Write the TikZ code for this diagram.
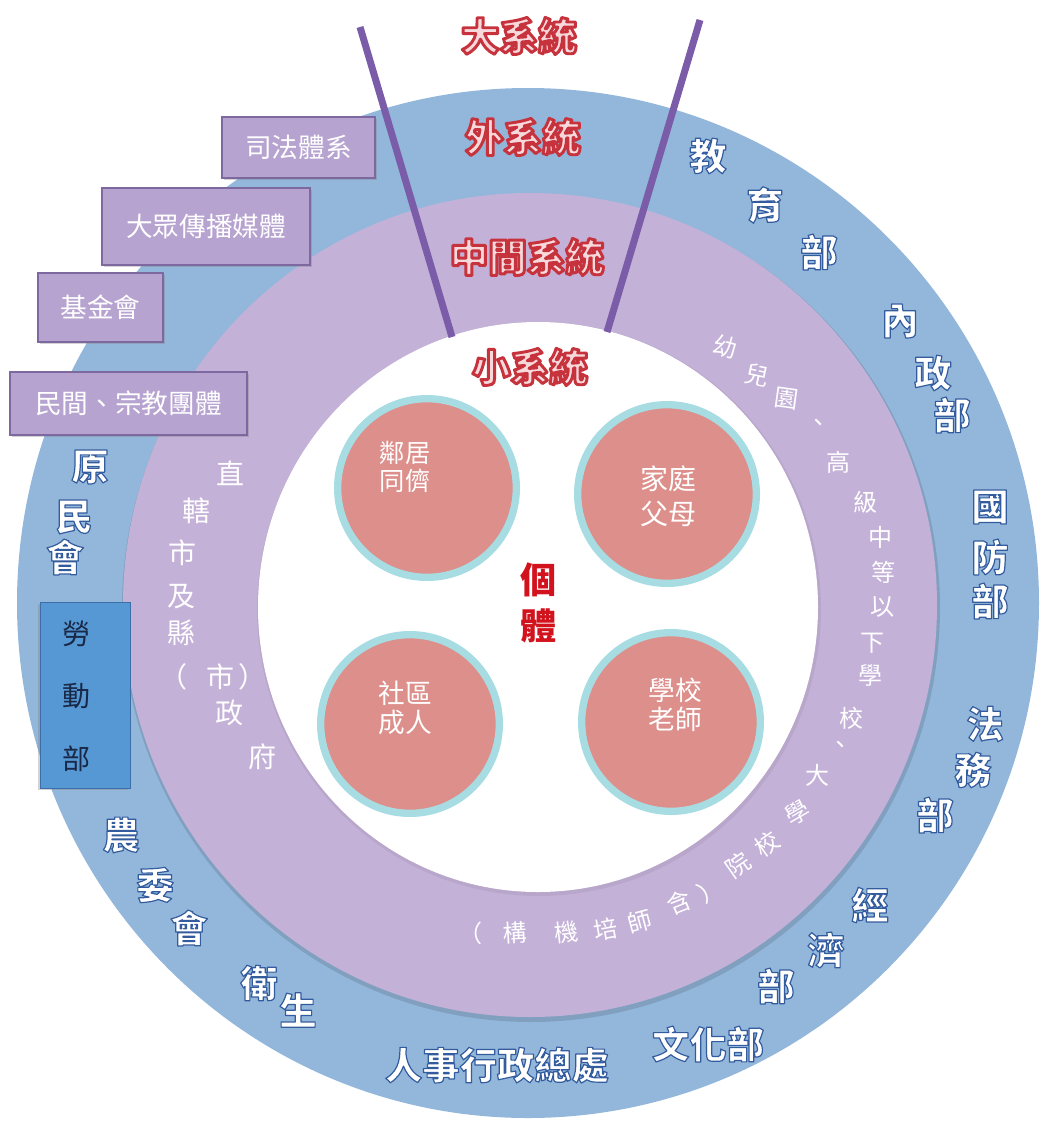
\documentclass[tikz,border=0pt]{standalone}
\usepackage{fontspec}
\setmainfont{Noto Sans CJK TC}
\newfontfamily\tc{Noto Sans CJK TC}
\usetikzlibrary{shadows}
\definecolor{ringblue}{RGB}{147,183,219}
\definecolor{ringpurple}{RGB}{196,177,216}
\definecolor{divline}{RGB}{122,92,168}
\definecolor{discfill}{RGB}{221,143,139}
\definecolor{discrim}{RGB}{166,220,226}
\definecolor{boxpurple}{RGB}{183,163,208}
\definecolor{boxedge}{RGB}{125,105,160}
\definecolor{laborblue}{RGB}{86,152,212}
\definecolor{laboredge}{RGB}{60,110,170}
\definecolor{labortext}{RGB}{25,40,70}
\definecolor{titlefill}{RGB}{247,216,219}
\definecolor{corered}{RGB}{210,18,28}
% outlined text: #1 stroke width, #2 stroke colour as "r g b", #3 fill colour, #4 text
\newcommand\outlinetext[4]{{\color{#3}\special{pdf:literal direct #2 RG #1 w 1 j 2 Tr}#4\special{pdf:literal direct 0 Tr}}}
% full-width brackets boxed to their ink half
\newcommand\lbrk{\makebox[0.5em][r]{（}}
\newcommand\rbrk{\makebox[0.5em][l]{）}}
\begin{document}
\begin{tikzpicture}[x=0.75pt,y=-0.75pt,
  divider/.style={draw=divline, line width=5.25pt},
  disc/.style={circle, fill=discfill, draw=discrim, line width=5.5pt, minimum size=134pt, inner sep=0pt,
    drop shadow={shadow xshift=1pt, shadow yshift=-1.5pt, opacity=.25}},
  disclbl/.style={inner sep=0pt, text=white, align=center},
  titlelbl/.style={inner sep=0pt, font=\tc\bfseries\fontsize{29}{31}\selectfont},
  corelbl/.style={inner sep=0pt, text=corered, align=center, font=\tc\bfseries\fontsize{27}{35}\selectfont},
  outerlbl/.style={inner sep=0pt, font=\tc\bfseries\fontsize{28}{30}\selectfont},
  midlbl/.style={inner sep=0pt, text=white, font=\tc\fontsize{21}{23}\selectfont},
  arclbl/.style={inner sep=0pt, text=white, font=\tc\fontsize{18}{20}\selectfont},
  orgbox/.style={fill=boxpurple, draw=boxedge, line width=0.8pt, text=white, inner sep=0pt,
    font=\tc\fontsize{20}{22}\selectfont,
    drop shadow={shadow xshift=1.5pt, shadow yshift=-1.5pt, opacity=.35}},
  laborbox/.style={fill=laborblue, draw=laboredge, line width=0.6pt, inner sep=0pt,
    drop shadow={shadow xshift=-1.5pt, shadow yshift=-1.5pt, opacity=.35}},
  labortxt/.style={inner sep=0pt, text=labortext, align=center, font=\tc\fontsize{21}{47}\selectfont}
]
\useasboundingbox (0,0) rectangle (1050,1122);
% rings
\fill[ringblue] (528,603) ellipse [x radius=511, y radius=515];
\fill[black,opacity=.12] (531,608) ellipse [x radius=409, y radius=414];
\fill[ringpurple] (530,605) ellipse [x radius=407, y radius=412];
\fill[black,opacity=.06] (539,609) ellipse [x radius=282, y radius=287];
\fill[white] (538,607) ellipse [x radius=280, y radius=285];
% dividing lines
\coordinate (lt) at (360,27); \coordinate (lb) at (452,337);
\coordinate (rt) at (700,20); \coordinate (rb) at (607,332);
\draw[divider] (lt) -- (lb);
\draw[divider] (rt) -- (rb);
% titles
\node[titlelbl] (tBig) at (519,36) {\outlinetext{2.2}{0.78 0.2 0.24}{titlefill}{大系統}};
\node[titlelbl] (tExo) at (523,137) {\outlinetext{2.2}{0.78 0.2 0.24}{titlefill}{外系統}};
\node[titlelbl] (tMeso) at (527,257) {\outlinetext{2.2}{0.78 0.2 0.24}{titlefill}{中間系統}};
\node[titlelbl] (tMicro) at (530,367) {\outlinetext{2.2}{0.78 0.2 0.24}{titlefill}{小系統}};
% discs
\node[disc] (dn) at (427,488) {};
\node[disc] (df) at (667,494) {};
\node[disc] (dc) at (410,724) {};
\node[disc] (ds) at (671,722) {};
\node[disclbl, font=\tc\fontsize{19}{21}\selectfont] (tn) at (405,467) {鄰居\\同儕};
\node[disclbl, font=\tc\fontsize{21}{26}\selectfont] (tf) at (668,496) {家庭\\父母};
\node[disclbl, font=\tc\fontsize{20}{22}\selectfont] (tc) at (405,708) {社區\\成人};
\node[disclbl, font=\tc\fontsize{20}{22}\selectfont] (ts) at (675,705) {學校\\老師};
% individual
\node[corelbl] (core) at (538,603) {個\\體};
% outer ring labels
\foreach \t/\x/\y [count=\i] in {教/708/156, 育/765/205, 部/819/252,
  內/900/321, 政/933/373, 部/952/415,
  國/990/507, 防/990/557, 部/990/601,
  法/985/724, 務/973/770, 部/935/815,
  經/870/905, 濟/826/950, 部/776/986,
  文化部/708/1044, 人事行政總處/497/1065,
  衛/259/983, 生/298/1010,
  農/121/835, 委/155/885, 會/189/928,
  原/90/467, 民/74/517, 會/65/557}
  \node[outerlbl] (o\i) at (\x,\y) {\outlinetext{0.9}{0.2 0.36 0.62}{white}{\t}};
% middle ring, left
\foreach \t/\x/\y [count=\i] in {直/230/473, 轄/196/511, 市/182/553, 及/181/597, 縣/181/633,
  \lbrk/180/677, 市/220/677, \rbrk/245/677, 政/229/713, 府/262/757}
  \node[midlbl] (m\i) at (\x,\y) {\t};
% middle ring, right arc
\foreach \t/\x/\y/\r [count=\i] in {幼/725/347/-15, 兒/757/375/-12, 園/787/399/-8, 、/818/425/0,
  高/838/462/0, 級/865/502/0, 中/880/537/0, 等/883/572/0, 以/882/607/0, 下/872/643/0,
  學/870/675/0, 校/851/718/0, 、/840/747/0, 大/817/775/0, 學/797/813/30, 校/767/844/35,
  院/738/865/35, \rbrk/705/893/30, 含/679/903/22, 師/640/922/15, 培/606/929/10,
  機/566/932/6, 構/515/933/3, \lbrk/476/933/0}
  \node[arclbl, rotate=\r] (a\i) at (\x,\y) {\t};
% organisation boxes
\node[orgbox, minimum width=114.75pt, minimum height=45.75pt] (bJud) at (298.5,147.5) {司法體系};
\node[orgbox, minimum width=156pt, minimum height=57.75pt] (bMedia) at (206,226.5) {大眾傳播媒體};
\node[orgbox, minimum width=93.75pt, minimum height=51.75pt] (bFund) at (100.5,307.5) {基金會};
\node[orgbox, minimum width=177.75pt, minimum height=47.25pt] (bCivil) at (128.5,403.5) {民間、宗教團體};
\node[laborbox, minimum width=67.5pt, minimum height=139.5pt] (bLab) at (85,695) {};
\node[labortxt] (tLab) at (76,696) {勞\\動\\部};
\end{tikzpicture}
\end{document}
